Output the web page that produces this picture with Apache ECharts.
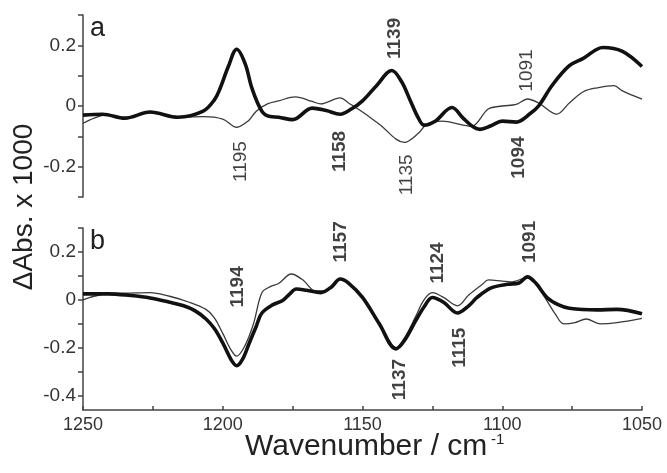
<!DOCTYPE html>
<html>
<head>
<meta charset="utf-8">
<script src="https://cdn.jsdelivr.net/npm/echarts@6/dist/echarts.min.js"></script>
<style>
    html, body { margin: 0; padding: 0; background: #fff; }
    #chart { width: 667px; height: 473px; }
</style>
</head>
<body>
<div id="chart"></div>
<script>
// panel a, thick trace
var aThickWn = [1250, 1243, 1235, 1226, 1216, 1207, 1203, 1201, 1198, 1195, 1192, 1189.5, 1186, 1183, 1180, 1175, 1168, 1163, 1158, 1154, 1150, 1145, 1139.5, 1136, 1133, 1130, 1128, 1124, 1118, 1114, 1111, 1108, 1104, 1100, 1095, 1090, 1087, 1082, 1076, 1071, 1064, 1057, 1050];
var aThickAbs = [-0.03, -0.027, -0.04, -0.02, -0.037, -0.017, 0.02, 0.057, 0.13, 0.187, 0.14, 0.057, -0.017, -0.035, -0.037, -0.045, -0.007, -0.015, -0.027, -0.01, 0.017, 0.067, 0.117, 0.08, 0.02, -0.04, -0.063, -0.05, -0.005, -0.04, -0.065, -0.077, -0.065, -0.05, -0.053, -0.025, 0, 0.07, 0.133, 0.157, 0.193, 0.18, 0.13];

// panel a, thin trace
var aThinWn = [1250, 1246, 1242, 1235, 1226, 1216, 1207, 1200, 1195, 1191, 1188, 1184, 1180, 1174, 1168, 1165, 1158, 1155, 1150, 1144, 1135, 1130, 1127, 1121.5, 1114, 1111, 1105, 1100, 1095, 1091, 1087, 1080.5, 1076, 1071, 1066, 1060, 1057, 1050];
var aThinAbs = [-0.057, -0.04, -0.03, -0.038, -0.022, -0.037, -0.035, -0.043, -0.07, -0.05, -0.017, 0.007, 0.017, 0.03, 0.015, 0.007, 0.027, 0.01, -0.02, -0.06, -0.12, -0.09, -0.06, -0.05, -0.063, -0.067, -0.01, 0, 0.005, 0.023, 0.01, -0.027, 0.01, 0.047, 0.06, 0.067, 0.05, 0.023];

// panel b, thick trace
var bThickWn = [1250, 1241, 1233, 1226, 1219, 1214, 1210, 1206, 1203, 1200, 1197, 1195, 1193, 1190.5, 1188, 1186, 1182, 1178.7, 1176, 1173.7, 1170, 1165, 1161, 1158, 1155, 1150, 1144, 1138, 1135, 1131, 1128, 1125, 1121, 1116, 1112, 1109, 1104, 1098, 1094, 1091, 1088, 1084, 1080, 1076, 1066, 1059, 1050];
var bThickAbs = [0.025, 0.025, 0.018, 0.008, -0.01, -0.025, -0.045, -0.08, -0.12, -0.18, -0.25, -0.275, -0.25, -0.18, -0.11, -0.055, -0.02, -0.004, 0.025, 0.045, 0.04, 0.03, 0.055, 0.087, 0.07, 0.01, -0.1, -0.205, -0.17, -0.088, -0.03, 0.01, -0.01, -0.055, -0.025, 0.01, 0.05, 0.065, 0.07, 0.096, 0.07, 0.01, -0.02, -0.035, -0.042, -0.04, -0.058];

// panel b, thin trace
var bThinWn = [1250, 1246, 1241, 1233, 1226, 1219, 1212, 1206, 1203, 1200, 1197, 1195, 1192, 1189, 1186, 1183, 1180, 1175.5, 1171, 1167, 1163, 1158, 1155, 1150, 1144, 1138, 1135, 1131, 1128, 1125, 1121, 1116, 1112, 1107, 1105, 1100, 1097, 1091, 1087, 1084, 1081, 1078, 1074, 1070, 1065, 1059, 1050];
var bThinAbs = [0.0, 0.015, 0.025, 0.028, 0.03, 0.015, -0.01, -0.04, -0.075, -0.14, -0.21, -0.235, -0.19, -0.1, 0.03, 0.055, 0.068, 0.108, 0.08, 0.037, 0.04, 0.09, 0.07, 0.005, -0.1, -0.2, -0.16, -0.07, 0.0, 0.03, 0.01, -0.025, 0.02, 0.066, 0.083, 0.078, 0.075, 0.092, 0.05, -0.004, -0.06, -0.1, -0.095, -0.08, -0.1, -0.095, -0.077];

// peak labels: text, wavenumber position, value position, bold
var aPeakText = ['1195', '1158', '1139', '1135', '1091', '1094'];
var aPeakWn = [1193.4, 1158.2, 1138.5, 1134.2, 1091.2, 1094.1];
var aPeakAbs = [-0.183, -0.15, 0.223, -0.227, 0.117, -0.17];
var aPeakBold = [false, true, true, false, false, true];

var bPeakText = ['1194', '1157', '1124', '1091', '1137', '1115'];
var bPeakWn = [1194.8, 1157.9, 1123.1, 1090.1, 1136.7, 1115.2];
var bPeakAbs = [0.054, 0.242, 0.154, 0.242, -0.333, -0.2];
var bPeakBold = [true, true, true, true, true, true];

// axis ticks
var xTicks = [1250, 1225, 1200, 1175, 1150, 1125, 1100, 1075, 1050];
var xLabels = [1250, 1200, 1150, 1100, 1050];
var aYTicks = [-0.3, -0.2, -0.1, 0, 0.1, 0.2, 0.3];
var aYLabels = [-0.2, 0, 0.2];
var bYTicks = [-0.4, -0.3, -0.2, -0.1, 0, 0.1, 0.2, 0.3];
var bYLabels = [-0.4, -0.2, 0, 0.2];

var FONT = 'Liberation Sans, Arial, sans-serif';

function pairs(wn, abs) {
    return wn.map((w, i) => [w, abs[i]]);
}

function peaks(text, wn, abs, bold) {
    return text.map((t, i) => ({
        name: t,
        value: [wn[i], abs[i]],
        label: { fontWeight: bold[i] ? 'bold' : 'normal' }
    }));
}

function yAxisFor(idx, min, max, ticks, labels) {
    return {
        type: 'value',
        gridIndex: idx,
        min: min,
        max: max,
        splitLine: { show: false },
        axisLine: { show: true, lineStyle: { color: '#444', width: 1.5 } },
        axisTick: { show: true, length: 5, customValues: ticks, lineStyle: { color: '#444', width: 1.5 } },
        axisLabel: {
            customValues: labels,
            formatter: v => String(v),
            color: '#333',
            fontFamily: FONT,
            fontSize: 19,
            margin: 7
        }
    };
}

function lineSeries(idx, data, width, color) {
    return {
        type: 'line',
        xAxisIndex: idx,
        yAxisIndex: idx,
        data: data,
        smooth: 0.35,
        showSymbol: false,
        symbol: 'none',
        lineStyle: { width: width, color: color },
        silent: true
    };
}

function peakSeries(idx, data) {
    return {
        type: 'scatter',
        xAxisIndex: idx,
        yAxisIndex: idx,
        data: data,
        symbolSize: 0,
        silent: true,
        label: {
            show: true,
            position: 'inside',
            rotate: 90,
            formatter: p => p.name,
            color: '#111',
            fontFamily: FONT,
            fontSize: 19
        }
    };
}

var chartDom = document.getElementById('chart');
var myChart = echarts.init(chartDom);

var option = {
    backgroundColor: '#fff',
    animation: false,
    grid: [
        { left: 83, width: 559, top: 15, height: 182 },
        { left: 83, width: 559, top: 228, height: 182 }
    ],
    xAxis: [
        {
            type: 'value',
            gridIndex: 0,
            min: 1050,
            max: 1250,
            inverse: true,
            axisLine: { show: false },
            axisTick: { show: false },
            axisLabel: { show: false },
            splitLine: { show: false }
        },
        {
            type: 'value',
            gridIndex: 1,
            min: 1050,
            max: 1250,
            inverse: true,
            splitLine: { show: false },
            axisLine: { show: true, onZero: false, lineStyle: { color: '#444', width: 1.5 } },
            axisTick: { show: true, inside: true, length: 4, customValues: xTicks, lineStyle: { color: '#444', width: 1.5 } },
            axisLabel: {
                customValues: xLabels,
                formatter: v => String(v),
                color: '#333',
                fontFamily: FONT,
                fontSize: 18,
                margin: 6
            }
        }
    ],
    yAxis: [
        yAxisFor(0, -0.3, 0.3, aYTicks, aYLabels),
        yAxisFor(1, -0.46, 0.3, bYTicks, bYLabels)
    ],
    graphic: [
        {
            type: 'text', left: 90, top: 15,
            style: { text: 'a', font: '27px ' + FONT, fill: '#222' }
        },
        {
            type: 'text', left: 90, top: 228,
            style: { text: 'b', font: '27px ' + FONT, fill: '#222' }
        },
        {
            type: 'text', x: 24, y: 207, rotation: Math.PI / 2,
            style: {
                text: 'ΔAbs. x 1000', font: '28px ' + FONT, fill: '#222',
                align: 'center', verticalAlign: 'middle'
            }
        },
        {
            type: 'text', x: 245, y: 447,
            style: {
                text: 'Wavenumber / cm', font: '30px ' + FONT, fill: '#222',
                align: 'left', verticalAlign: 'middle'
            }
        },
        {
            type: 'text', x: 491, y: 440,
            style: {
                text: '-1', font: '15px ' + FONT, fill: '#222',
                align: 'left', verticalAlign: 'middle'
            }
        }
    ],
    series: [
        lineSeries(0, pairs(aThinWn, aThinAbs), 1.3, '#3a3a3a'),
        lineSeries(0, pairs(aThickWn, aThickAbs), 3.6, '#111'),
        lineSeries(1, pairs(bThinWn, bThinAbs), 1.3, '#3a3a3a'),
        lineSeries(1, pairs(bThickWn, bThickAbs), 3.6, '#111'),
        peakSeries(0, peaks(aPeakText, aPeakWn, aPeakAbs, aPeakBold)),
        peakSeries(1, peaks(bPeakText, bPeakWn, bPeakAbs, bPeakBold))
    ]
};

myChart.setOption(option);
</script>
</body>
</html>
